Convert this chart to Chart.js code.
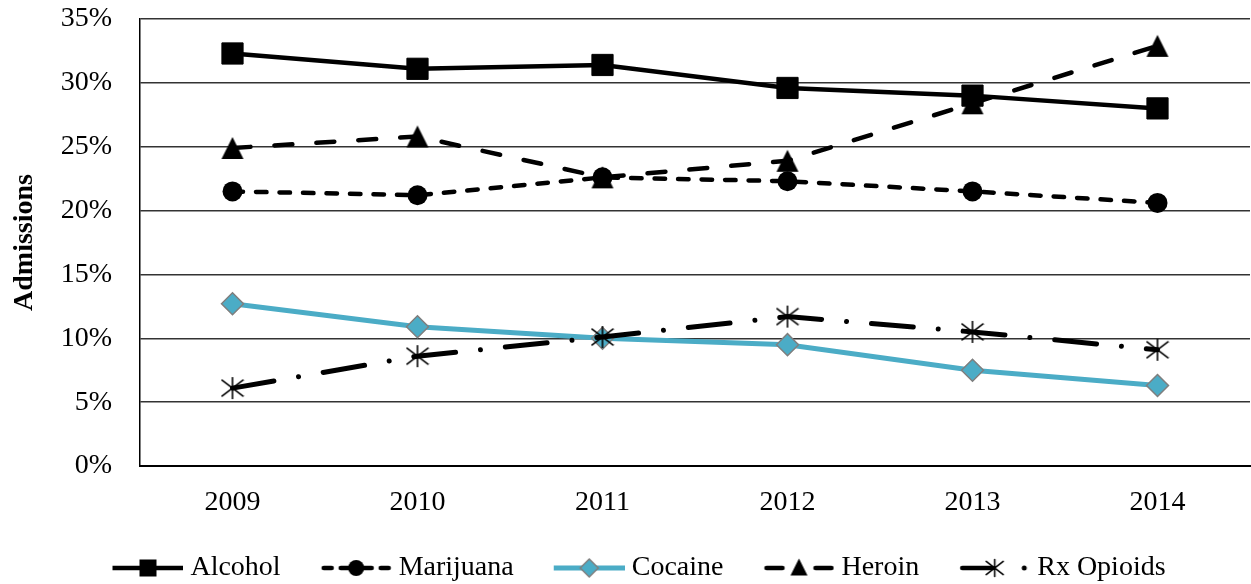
<!DOCTYPE html>
<html>
<head>
<meta charset="utf-8">
<script src="https://cdn.jsdelivr.net/npm/chart.js@4/dist/chart.umd.min.js"></script>
<style>
  html, body { margin: 0; padding: 0; background: #fff; }
  canvas { display: block; }
</style>
</head>
<body>
<canvas id="admChart" width="1251" height="584"></canvas>
<script>
/*---------------------------- data ------------------------------------*/
var years = ['2009', '2010', '2011', '2012', '2013', '2014'];
var alcohol   = [32.3, 31.1, 31.4, 29.6, 29.0, 28.0];
var marijuana = [21.5, 21.2, 22.6, 22.3, 21.5, 20.6];
var cocaine   = [12.7, 10.9, 10.0, 9.5, 7.5, 6.3];
var heroin    = [24.9, 25.8, 22.6, 23.9, 28.4, 32.9];
var rxOpioids = [6.1, 8.6, 10.1, 11.7, 10.5, 9.1];
var seriesNames = ['Alcohol', 'Marijuana', 'Cocaine', 'Heroin', 'Rx Opioids'];
var yTicks = [0, 5, 10, 15, 20, 25, 30, 35];

var TEAL = '#4BACC6';
var FONT = "'Liberation Serif', 'Times New Roman', serif";

/*---------------------------- markers ------------------------------------*/
function makeCanvas(w, h, draw) {
  var c = document.createElement('canvas');
  c.width = w; c.height = h;
  draw(c.getContext('2d'));
  return c;
}

function triangle(g, cx, cy, s) {
  g.beginPath();
  g.moveTo(cx, cy - s / 2);
  g.lineTo(cx + s / 2, cy + s / 2);
  g.lineTo(cx - s / 2, cy + s / 2);
  g.closePath();
  g.fillStyle = '#000';
  g.fill();
}

function asterisk(g, cx, cy, s) {
  g.strokeStyle = '#000';
  g.lineWidth = 1.6;
  g.beginPath();
  g.moveTo(cx, cy - s / 2); g.lineTo(cx, cy + s / 2);
  g.moveTo(cx - s / 2, cy - s / 2.6); g.lineTo(cx + s / 2, cy + s / 2.6);
  g.moveTo(cx - s / 2, cy + s / 2.6); g.lineTo(cx + s / 2, cy - s / 2.6);
  g.stroke();
}

var triMark = makeCanvas(24, 24, function (g) { triangle(g, 12, 12, 22); });
var starMark = makeCanvas(24, 24, function (g) { asterisk(g, 12, 12, 22); });

/*---------------------------- legend swatches ------------------------------------*/
// line from x=7 to x=78, marker in the middle (42.5)
function seg(g, x1, x2, w, color) {
  g.strokeStyle = color || '#000';
  g.lineWidth = w;
  g.lineCap = 'round';
  g.beginPath();
  g.moveTo(x1, 14); g.lineTo(x2, 14);
  g.stroke();
}

var legendSwatches = [
  makeCanvas(78, 28, function (g) {
    g.lineCap = 'butt';
    g.strokeStyle = '#000'; g.lineWidth = 4.5;
    g.beginPath(); g.moveTo(7, 14); g.lineTo(78, 14); g.stroke();
    g.fillStyle = '#000'; g.fillRect(34, 5.5, 17, 17);
  }),
  makeCanvas(78, 28, function (g) {
    seg(g, 10, 18, 4.5); seg(g, 27, 58, 4.5); seg(g, 67, 75, 4.5);
    g.fillStyle = '#000'; g.beginPath(); g.arc(42.5, 14, 8, 0, Math.PI * 2); g.fill();
  }),
  makeCanvas(78, 28, function (g) {
    g.strokeStyle = TEAL; g.lineWidth = 5;
    g.beginPath(); g.moveTo(7, 14); g.lineTo(78, 14); g.stroke();
    g.beginPath();
    g.moveTo(42.5, 5); g.lineTo(51.5, 14); g.lineTo(42.5, 23); g.lineTo(33.5, 14); g.closePath();
    g.fillStyle = TEAL; g.fill();
    g.strokeStyle = '#7F7F7F'; g.lineWidth = 1.5; g.stroke();
  }),
  makeCanvas(78, 28, function (g) {
    seg(g, 10, 26, 4.5); seg(g, 59, 75, 4.5);
    triangle(g, 42.5, 13, 17);
  }),
  makeCanvas(78, 28, function (g) {
    seg(g, 10, 40, 4.5);
    asterisk(g, 42.5, 14, 17);
    g.fillStyle = '#000'; g.beginPath(); g.arc(72, 14, 2.5, 0, Math.PI * 2); g.fill();
  })
];

/*---------------------------- chart ------------------------------------*/
// move the legend row a bit right from where Chart.js centers it
var nudgeLegend = {
  id: 'nudgeLegend',
  afterLayout: function (chart) {
    var lg = chart.legend;
    lg.left += 14; lg.right += 14;
    lg.top -= 2; lg.bottom -= 2;
  }
};

function noPadding() {
  return { left: 0, top: 0, right: 0, bottom: 0 };
}

new Chart('admChart', {
  type: 'line',
  data: {
    labels: years,
    datasets: [{
      label: seriesNames[0],
      data: alcohol,
      borderColor: '#000',
      borderWidth: 4.5,
      pointStyle: 'rect',
      pointRadius: 15,
      pointBackgroundColor: '#000',
      pointBorderColor: '#000',
      pointBorderWidth: 1,
      order: 5
    }, {
      label: seriesNames[1],
      data: marijuana,
      borderColor: '#000',
      borderWidth: 4.5,
      borderDash: [10.5, 13],
      borderCapStyle: 'round',
      pointStyle: 'circle',
      pointRadius: 10,
      pointBackgroundColor: '#000',
      pointBorderColor: '#000',
      pointBorderWidth: 0,
      order: 4
    }, {
      label: seriesNames[2],
      data: cocaine,
      borderColor: TEAL,
      borderWidth: 5,
      pointStyle: 'rectRot',
      pointRadius: 11,
      pointBackgroundColor: TEAL,
      pointBorderColor: '#7F7F7F',
      pointBorderWidth: 1.5,
      order: 3
    }, {
      label: seriesNames[3],
      data: heroin,
      borderColor: '#000',
      borderWidth: 4.5,
      borderDash: [18, 24],
      borderCapStyle: 'round',
      pointStyle: triMark,
      pointRadius: 11,
      order: 2
    }, {
      label: seriesNames[4],
      data: rxOpioids,
      borderColor: '#000',
      borderWidth: 5,
      borderDash: [42, 25, 0.01, 25],
      borderCapStyle: 'round',
      pointStyle: starMark,
      pointRadius: 11,
      order: 1
    }]
  },
  options: {
    responsive: false,
    animation: false,
    devicePixelRatio: 1,
    layout: { autoPadding: false, padding: { top: 19, right: 1, bottom: -10, left: 0 } },
    elements: { line: { tension: 0 } },
    plugins: {
      tooltip: { enabled: false },
      legend: {
        position: 'bottom',
        labels: {
          usePointStyle: true,
          pointStyleWidth: 64,
          padding: 40,
          color: '#000',
          font: { family: FONT, size: 28 },
          generateLabels: function (chart) {
            return chart.data.datasets.map(function (ds, i) {
              return {
                text: ds.label,
                pointStyle: legendSwatches[i],
                fillStyle: 'transparent',
                strokeStyle: 'transparent',
                lineWidth: 0,
                fontColor: '#000',
                datasetIndex: i
              };
            });
          }
        }
      }
    },
    scales: {
      x: {
        offset: true,
        grid: { display: false, drawTicks: false },
        border: { display: true, color: '#000', width: 2 },
        ticks: { color: '#000', padding: 20, font: { family: FONT, size: 28 } },
        afterFit: function (s) {
          s.height = 50;
          s.paddingLeft = 0; s.paddingRight = 0;
          s.getPadding = noPadding;
        }
      },
      y: {
        min: 0,
        max: 35,
        afterBuildTicks: function (s) {
          s.ticks = yTicks.map(function (v) { return { value: v }; });
        },
        grid: { color: '#333', lineWidth: 1.4, drawTicks: false },
        border: { display: true, color: '#000', width: 1.5 },
        ticks: {
          color: '#000',
          padding: 28,
          font: { family: FONT, size: 28 },
          callback: function (v) { return v + '%'; }
        },
        title: {
          display: true,
          text: 'Admissions',
          color: '#000',
          padding: { top: 8, bottom: 0 },
          font: { family: FONT, size: 28, weight: 'bold' }
        },
        afterFit: function (s) {
          s.width = 140;
          s.paddingTop = 0; s.paddingBottom = 0;
          s.getPadding = noPadding;
        }
      }
    }
  },
  plugins: [nudgeLegend]
});
</script>
</body>
</html>
